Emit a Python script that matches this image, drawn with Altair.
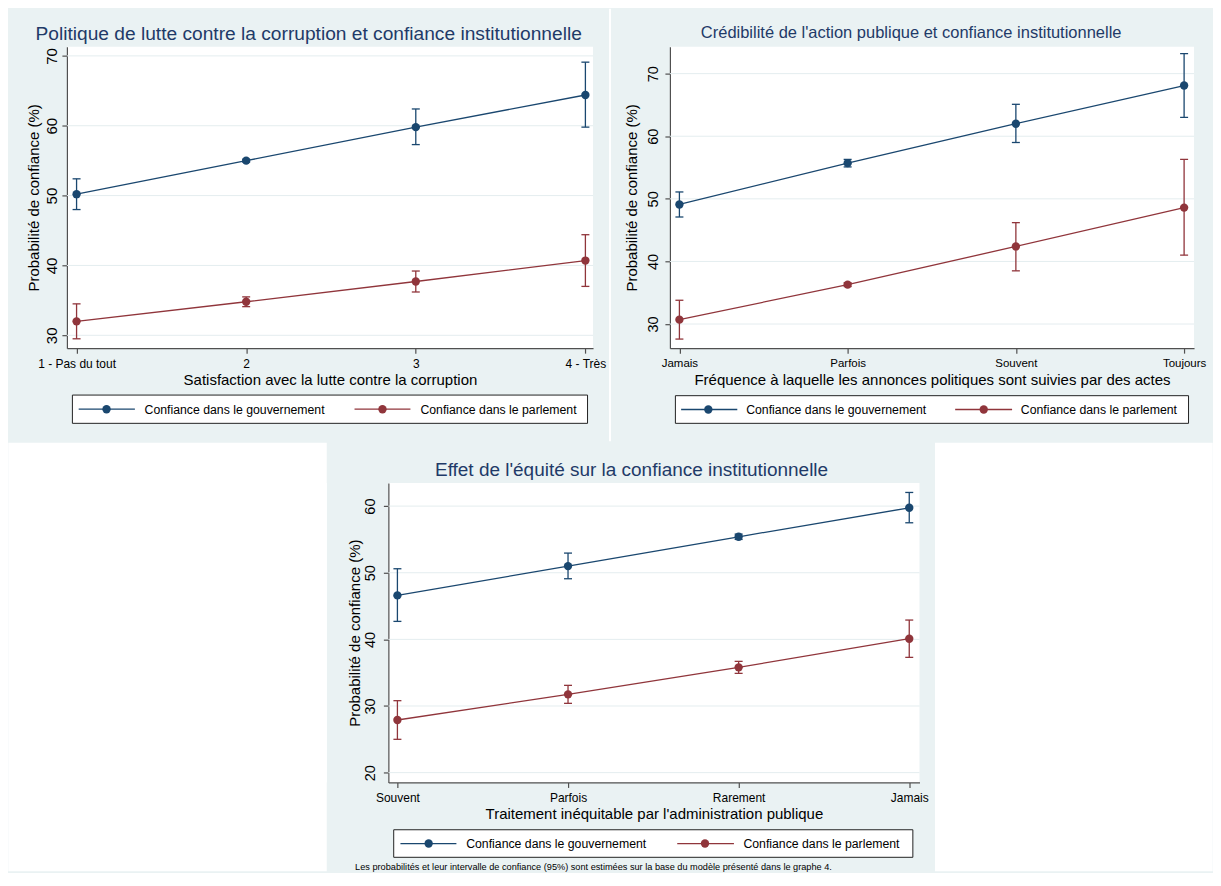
import json
import pandas as pd
import altair as alt

FONT = "Liberation Sans"
BG = "#eaf2f3"
GOV_C = "#1a476f"
PARL_C = "#90353b"
TITLE_C = "#1f3a68"
AXIS_C = "#505050"
GRID_C = "#e4edef"

series_names = ["Confiance dans le gouvernement", "Confiance dans le parlement"]
y_title = "Probabilité de confiance (%)"
footnote = ("Les probabilités et leur intervalle de confiance (95%) sont estimées "
            "sur la base du modèle présenté dans le graphe 4.")
x_pos = [1, 2, 3, 4]

# ---- Panel 1 data
p1_title = "Politique de lutte contre la corruption et confiance institutionnelle"
p1_xtitle = "Satisfaction avec la lutte contre la corruption"
p1_labels = ["1 - Pas du tout", "2", "3", "4 - Très"]
p1_gov = [50.2, 55.0, 59.8, 64.4]
p1_gov_lo = [48.0, 54.8, 57.3, 59.8]
p1_gov_hi = [52.4, 55.2, 62.4, 69.1]
p1_parl = [32.0, 34.8, 37.7, 40.7]
p1_parl_lo = [29.5, 34.1, 36.2, 37.0]
p1_parl_hi = [34.5, 35.5, 39.2, 44.4]
p1_yticks = [30, 40, 50, 60, 70]

# ---- Panel 2 data
p2_title = "Crédibilité de l'action publique et confiance institutionnelle"
p2_xtitle = "Fréquence à laquelle les annonces politiques sont suivies par des actes"
p2_labels = ["Jamais", "Parfois", "Souvent", "Toujours"]
p2_gov = [49.1, 55.7, 62.0, 68.1]
p2_gov_lo = [47.1, 55.1, 59.0, 63.0]
p2_gov_hi = [51.1, 56.3, 65.1, 73.2]
p2_parl = [30.7, 36.3, 42.4, 48.6]
p2_parl_lo = [27.6, 36.0, 38.5, 41.0]
p2_parl_hi = [33.8, 36.6, 46.2, 56.3]
p2_yticks = [30, 40, 50, 60, 70]

# ---- Panel 3 data
p3_title = "Effet de l'équité sur la confiance institutionnelle"
p3_xtitle = "Traitement inéquitable par l'administration publique"
p3_labels = ["Souvent", "Parfois", "Rarement", "Jamais"]
p3_gov = [46.6, 51.0, 55.4, 59.75]
p3_gov_lo = [42.7, 49.1, 55.0, 57.5]
p3_gov_hi = [50.6, 52.95, 55.8, 62.05]
p3_parl = [27.9, 31.75, 35.8, 40.1]
p3_parl_lo = [25.0, 30.4, 34.9, 37.3]
p3_parl_hi = [30.8, 33.1, 36.7, 42.9]
p3_yticks = [20, 30, 40, 50, 60]

one = pd.DataFrame({"k": [0]})


def rect(x1, x2, y1, y2, **kw):
    return alt.Chart(one).mark_rect(**kw).encode(
        x=alt.value(x1), x2=alt.value(x2), y=alt.value(y1), y2=alt.value(y2))


def text(x, y, txt, size, color="black", align="center"):
    return alt.Chart(one).mark_text(
        font=FONT, fontSize=size, color=color, align=align, baseline="middle"
    ).encode(x=alt.value(x), y=alt.value(y), text=alt.value(txt))


def hline(x1, x2, y, color):
    return alt.Chart(one).mark_rule(color=color, strokeWidth=1.3).encode(
        x=alt.value(x1), x2=alt.value(x2), y=alt.value(y))


def dot(x, y, color):
    return alt.Chart(one).mark_circle(size=70, opacity=1, color=color).encode(
        x=alt.value(x), y=alt.value(y))


def make_panel(P):
    W, H = P["W"], P["H"]
    L, R, T, B = P["L"], P["R"], P["T"], P["B"]
    rows = []
    for name, v, lo, hi in [
        (series_names[0], P["gov"], P["gov_lo"], P["gov_hi"]),
        (series_names[1], P["parl"], P["parl_lo"], P["parl_hi"]),
    ]:
        for i, xv in enumerate(x_pos):
            rows.append({"x": xv, "y": v[i], "lo": lo[i], "hi": hi[i], "s": name})
    df = pd.DataFrame(rows)
    grid_df = pd.DataFrame({"v": P["yticks"]})

    xs = alt.Scale(domain=P["xdom"], nice=False, zero=False)
    ys = alt.Scale(domain=P["ydom"], nice=False, zero=False)
    col = alt.Color("s:N", scale=alt.Scale(domain=series_names, range=[GOV_C, PARL_C]),
                    legend=None)
    label_expr = json.dumps(P["labels"], ensure_ascii=False) + "[datum.value - 1]"

    xaxis = alt.Axis(
        values=x_pos, labelExpr=label_expr, title=P["xtitle"], grid=False,
        domainColor=AXIS_C, domainWidth=1.2, tickColor=AXIS_C, tickWidth=1.2, tickSize=5,
        labelFont=FONT, labelFontSize=P["xl_fs"], labelColor="black",
        labelBaseline="middle", labelAlign="center", labelPadding=P["xl_pad"],
        labelFlush=False, labelOverlap=False,
        titleFont=FONT, titleFontSize=15, titleFontWeight="normal", titleColor="black",
        titleX=W / 2, titleY=P["xt_y"], titleBaseline="middle", titleAlign="center")
    yaxis = alt.Axis(
        values=P["yticks"], title=y_title, grid=False,
        domainColor=AXIS_C, domainWidth=1.2, tickColor=AXIS_C, tickWidth=1.2, tickSize=5,
        labelFont=FONT, labelFontSize=P["yl_fs"], labelColor="black",
        labelAngle=270, labelAlign="center", labelBaseline="middle",
        labelPadding=P["yl_pad"], labelOverlap=False, labelFlush=False,
        titleFont=FONT, titleFontSize=15, titleFontWeight="normal", titleColor="black",
        titleAngle=270, titleX=P["yt_x"], titleY=H / 2, titleBaseline="middle",
        titleAlign="center")

    X = alt.X("x:Q", scale=xs, axis=xaxis)

    def Y(f):
        return alt.Y(f, scale=ys, axis=yaxis)

    base = alt.Chart(df)
    layers = []
    # invisible box giving the panel its full extent
    layers.append(rect(-L, W + R, -T, H + B, opacity=0))
    for wr in P.get("white", []):
        layers.append(rect(*wr, color="white"))
    layers.append(alt.Chart(grid_df).mark_rule(color=GRID_C, strokeWidth=1).encode(
        y=Y("v:Q"), x=alt.value(0), x2=alt.value(W)))
    layers.append(base.mark_rule(strokeWidth=1.3).encode(
        x=X, y=Y("lo:Q"), y2="hi:Q", color=col))
    for f in ["lo", "hi"]:
        layers.append(base.mark_tick(orient="horizontal", size=8, thickness=1.3,
                                     opacity=1).encode(x=X, y=Y(f + ":Q"), color=col))
    layers.append(base.mark_line(strokeWidth=1.3).encode(
        x=X, y=Y("y:Q"), color=col, detail="s:N"))
    layers.append(base.mark_circle(size=70, opacity=1).encode(
        x=X, y=Y("y:Q"), color=col))

    # title
    layers.append(text((-L + W + R) / 2, P["title_y"], P["title"], P["title_fs"], TITLE_C))

    # legend
    cx = W / 2 + P.get("leg_dx", 0)
    ly0, ly1 = H + P["leg_top"], H + P["leg_bot"]
    ry = (ly0 + ly1) / 2
    hw = P["leg_hw"]
    layers.append(rect(cx - hw, cx + hw, ly0, ly1, fill="white", stroke="#222222",
                       strokeWidth=1))
    e = P["leg_e"]
    layers.append(hline(cx + e[0], cx + e[1], ry, GOV_C))
    layers.append(dot(cx + e[2], ry, GOV_C))
    layers.append(text(cx + e[3], ry + 0.7, series_names[0], 12.3, align="left"))
    layers.append(hline(cx + e[4], cx + e[5], ry, PARL_C))
    layers.append(dot(cx + e[6], ry, PARL_C))
    layers.append(text(cx + e[7], ry + 0.7, series_names[1], 12.3, align="left"))

    if P.get("footnote"):
        layers.append(text(P["fn_x"], H + P["fn_y"], P["footnote"], 9.2, align="left"))

    return alt.layer(*layers).properties(width=W, height=H)


H_TOP = 302
T_TOP = 38
B_TOP = 93.3

P1 = dict(W=527, H=H_TOP, L=58.7, R=16, T=T_TOP, B=B_TOP,
          xdom=[0.943, 4.045], ydom=[28.16, 71.32],
          labels=p1_labels, xtitle=p1_xtitle, title=p1_title, title_fs=19.2, title_y=-12.3,
          gov=p1_gov, gov_lo=p1_gov_lo, gov_hi=p1_gov_hi,
          parl=p1_parl, parl_lo=p1_parl_lo, parl_hi=p1_parl_hi, yticks=p1_yticks,
          xl_fs=12, xl_pad=10.7, xt_y=31.2, yl_fs=15, yl_pad=10.4, yt_x=-33.6,
          leg_top=47, leg_bot=75.3, leg_hw=258,
          leg_e=[-251.7, -195.4, -223.8, -185.7, 24.6, 80.6, 52.6, 90.6],
          # thin white separator between the two top panels
          white=[(527 + 16, 527 + 18, -T_TOP, H_TOP + B_TOP)])

P2 = dict(W=525, H=H_TOP, L=59, R=17.3, T=T_TOP, B=B_TOP,
          xdom=[0.9435, 4.059], ydom=[26.15, 74.31],
          labels=p2_labels, xtitle=p2_xtitle, title=p2_title, title_fs=16.5, title_y=-13.3,
          gov=p2_gov, gov_lo=p2_gov_lo, gov_hi=p2_gov_hi,
          parl=p2_parl, parl_lo=p2_parl_lo, parl_hi=p2_parl_hi, yticks=p2_yticks,
          xl_fs=11.5, xl_pad=10.7, xt_y=31.2, yl_fs=14.5, yl_pad=11.7, yt_x=-38.1,
          leg_top=47.6, leg_bot=75.3, leg_hw=257,
          leg_e=[-251.25, -195, -224, -186.1, 23.25, 80.25, 51.85, 89])

W3, H3, T3, B3 = 532, 300, 40.3, 89
P3_LEFT = 379.3          # plot left edge of panel 3, from the chart's left edge
TOTAL_W = 58.7 + 527 + 18 + 59 + 525 + 17.3

P3 = dict(W=W3, H=H3, L=60.3, R=15.5, T=T3, B=B3,
          xdom=[0.947, 4.06], ydom=[18.53, 63.48],
          labels=p3_labels, xtitle=p3_xtitle, title=p3_title, title_fs=19, title_y=-12.9,
          gov=p3_gov, gov_lo=p3_gov_lo, gov_hi=p3_gov_hi,
          parl=p3_parl, parl_lo=p3_parl_lo, parl_hi=p3_parl_hi, yticks=p3_yticks,
          xl_fs=12, xl_pad=10.1, xt_y=30.9, yl_fs=14.5, yl_pad=12.5, yt_x=-33.9,
          leg_top=47.4, leg_bot=75, leg_hw=260, leg_dx=-0.65,
          leg_e=[-253.25, -197.2, -225, -187.4, 24, 80.8, 51.8, 90.25],
          footnote=footnote, fn_x=-33.3, fn_y=84.5,
          white=[(W3 + 15.5, TOTAL_W - P3_LEFT, -T3, H3 + B3)])

p1 = make_panel(P1)
p2 = make_panel(P2)
p3 = make_panel(P3)

# white area to the left of the bottom panel
spacer_w = P3_LEFT - 60.3 - 58.7
spacer = rect(-58.7, spacer_w, -T3, H3 + B3, color="white").properties(
    width=spacer_w, height=H3)

chart = alt.vconcat(
    alt.hconcat(p1, p2, spacing=0),
    alt.hconcat(spacer, p3, spacing=0),
    spacing=0,
).properties(padding=0, background=BG).configure_view(strokeWidth=0, fill="white")

chart.save("out.html", embed_options={"renderer": "svg", "actions": False})
